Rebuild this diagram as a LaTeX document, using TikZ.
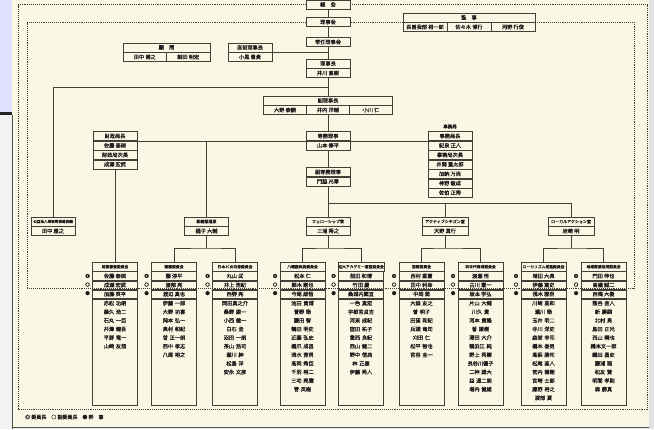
\documentclass[tikz,border=0pt]{standalone}
\usepackage{fontspec}
\setmainfont{Noto Sans CJK JP}[FakeBold=0.4]
\usetikzlibrary{positioning}
\definecolor{paper}{RGB}{250,247,228}
\definecolor{ink}{RGB}{66,62,56}
\definecolor{txt}{RGB}{28,26,26}

\begin{document}
\begin{tikzpicture}[x=1pt, y=-1pt,
  cell/.style={draw=ink, line width=0.45pt, fill=paper, text=txt, inner sep=0pt,
    minimum width=44pt, minimum height=9pt, font=\fontsize{5.2}{6}\selectfont},
  small/.style={cell, font=\fontsize{4}{5}\selectfont},
  chead/.style={cell, minimum width=45pt, anchor=north, font=\fontsize{3.8}{4.5}\selectfont},
  crow/.style={cell, minimum width=45pt, minimum height=8.6pt},
  cbody/.style={cell, text width=45pt, align=center, text height=6.4pt, text depth=99.8pt,
    font=\fontsize{5.2}{8.6}\selectfont},
  marks/.style={text width=5pt, align=center, inner sep=0pt, text height=6pt, anchor=north east,
    text=txt, font=\fontsize{4.5}{8.6}\selectfont},
  link/.style={draw=ink, line width=0.45pt},
  frame/.style={draw=ink, line width=0.35pt, dash pattern=on 1pt off 0.9pt},
]
\useasboundingbox (0,0) rectangle (654,429);
% sheet and photo edges
\fill[paper] (12,0) rectangle (649,427);
\fill[blue!12!white] (0,0) rectangle (12,112);
\fill[black!5] (0,115) rectangle (12,429);
\fill[black!85] (0,112) rectangle (12,115);
\fill[black!12] (649,0) rectangle (654,429);
\fill[black!6] (12,427) rectangle (649,429);
\draw[black!70, line width=0.6pt] (12,115) -- (12,429) (12,427) -- (649,427);

% top of the chart
\node[cell] (soukai) at (328,4.5) {総　会};
\node[cell] (rijikai) at (328,22) {理事会};
\node[cell] (jonin) at (328,42) {常任理事会};
\node[cell, minimum width=87pt] (komon) at (166.5,47.5) {顧　問};
\node[cell, minimum width=43.5pt, anchor=north west] (komon-1) at (komon.south west) {田中 博之};
\node[cell, minimum width=43.5pt, anchor=north east] (komon-2) at (komon.south east) {細田 明宏};
\node[cell] (chokuzen) at (250,47.5) {直前理事長};
\node[cell, below=0pt of chokuzen] (chokuzen-1) {小黒 豊貴};
\node[cell, minimum width=132pt] (kanji) at (469,17.5) {監　事};
\node[cell, anchor=north west] (kanji-1) at (kanji.south west) {長曽我部 裕一郎};
\node[cell, below=0pt of kanji] (kanji-2) {佐々木 博行};
\node[cell, anchor=north east] (kanji-3) at (kanji.south east) {河野 行俊};
\node[cell] (rijicho) at (328,63.5) {理事長};
\node[cell, below=0pt of rijicho] (rijicho-1) {井川 直樹};
\node[cell, minimum width=129pt] (fukuriji) at (328,100.5) {副理事長};
\node[cell, minimum width=43pt, anchor=north west] (fukuriji-1) at (fukuriji.south west) {大野 泰嗣};
\node[cell, minimum width=43pt, below=0pt of fukuriji] (fukuriji-2) {井内 洋輔};
\node[cell, minimum width=43pt, anchor=north east] (fukuriji-3) at (fukuriji.south east) {小川 仁};

% secretariat level
\node[cell] (senmu) at (328,136) {専務理事};
\node[cell, below=0pt of senmu] (senmu-1) {山本 修平};
\node[cell] (zaisei) at (115,136) {財政局長};
\node[cell, below=0pt of zaisei] (zaisei-1) {佐藤 泰規};
\node[cell, below=0pt of zaisei-1] (zaisei-2) {財政局次長};
\node[cell, below=0pt of zaisei-2] (zaisei-3) {成瀬 宏武};
\node[cell] (jimu) at (450,136) {事務局長};
\node[cell, below=0pt of jimu] (jimu-1) {紀泉 正人};
\node[cell, below=0pt of jimu-1] (jimu-2) {事務局次長};
\node[cell, below=0pt of jimu-2] (jimu-3) {井関 重太郎};
\node[cell, below=0pt of jimu-3] (jimu-4) {加納 万尚};
\node[cell, below=0pt of jimu-4] (jimu-5) {神野 敏成};
\node[cell, below=0pt of jimu-5] (jimu-6) {佐伯 正秀};
\node[small, draw=none, fill=none, anchor=south west, font=\fontsize{4.5}{5}\selectfont] (jimu-lbl) at (jimu.north west) {事務局};
\node[cell] (fsenmu) at (328,172) {副専務理事};
\node[cell, below=0pt of fsenmu] (fsenmu-1) {門脇 光章};

% rooms
\node[small, font=\fontsize{3.6}{4.5}\selectfont] (koueki) at (53,221.5) {公益法人格取得推進会議};
\node[cell, below=0pt of koueki] (koueki-1) {田中 雅之};
\node[small] (soshiki) at (206.5,221.5) {組織推進室};
\node[cell, below=0pt of soshiki] (soshiki-1) {樋子 大輔};
\node[small] (fellow) at (328,221.5) {フェローシップ室};
\node[cell, below=0pt of fellow] (fellow-1) {三浦 秀之};
\node[small, minimum width=46pt] (active) at (445,221.5) {アクティブシチズン室};
\node[cell, minimum width=46pt, below=0pt of active] (active-1) {天野 真行};
\node[small, minimum width=46pt] (local) at (571,221.5) {ローカルアクション室};
\node[cell, minimum width=46pt, below=0pt of local] (local-1) {岩崎 明};

% committees
\node[chead] (c1) at (115,262) {財務審査委員会};
\node[crow, below=0pt of c1] (c1-1) {佐藤 泰規};
\node[crow, below=0pt of c1-1] (c1-2) {成瀬 宏武};
\node[crow, below=0pt of c1-2] (c1-3) {加藤 英平};
\node[cbody, below=0pt of c1-3] (c1-b) {赤松 功朗\\藤久 浩二\\石丸 一臣\\井澤 健吾\\平野 竜一\\山崎 友哉};
\node[marks] (c1-m) at ([xshift=-2pt]c1-1.north west) {◎\\○\\●};

\node[chead] (c2) at (174,262) {総務委員会};
\node[crow, below=0pt of c2] (c2-1) {藤 淳平};
\node[crow, below=0pt of c2-1] (c2-2) {渡部 亮};
\node[crow, below=0pt of c2-2] (c2-3) {渡辺 真也};
\node[cbody, below=0pt of c2-3] (c2-b) {伊藤 一郎\\大野 功喜\\岡本 弘一\\奥村 和紀\\曽 正一朗\\西中 孝志\\八尾 裕之};
\node[marks] (c2-m) at ([xshift=-2pt]c2-1.north west) {◎\\○\\●};

\node[chead] (c3) at (235,262) {日本JC出向者委員会};
\node[crow, below=0pt of c3] (c3-1) {丸山 武};
\node[crow, below=0pt of c3-1] (c3-2) {井上 浩紀};
\node[crow, below=0pt of c3-2] (c3-3) {西野 亮};
\node[cbody, below=0pt of c3-3] (c3-b) {岡田真之介\\桑野 康一\\小西 健一\\白石 圭\\沼田 一朗\\茶山 浩司\\瀬川 紳\\松島 洋\\安永 文彦};
\node[marks] (c3-m) at ([xshift=-2pt]c3-1.north west) {◎\\○\\●};

\node[chead] (c4) at (302.5,262) {八幡塾実施委員会};
\node[crow, below=0pt of c4] (c4-1) {松本 仁};
\node[crow, below=0pt of c4-1] (c4-2) {鈴木 剛也};
\node[crow, below=0pt of c4-2] (c4-3) {今尾 雄悟};
\node[cbody, below=0pt of c4-3] (c4-b) {池田 貴博\\菅野 衛\\藤田 智\\鶴田 明史\\近藤 弘史\\橋爪 成昌\\清水 育男\\高岡 秀臣\\千羽 裕二\\三宅 亮麿\\菅 英樹};
\node[marks] (c4-m) at ([xshift=-2pt]c4-1.north west) {◎\\○\\●};

\node[chead] (c5) at (361,262) {松大アカデミー運営委員会};
\node[crow, below=0pt of c5] (c5-1) {前田 和博};
\node[crow, below=0pt of c5-1] (c5-2) {竹田 慶};
\node[crow, below=0pt of c5-2] (c5-3) {桑城内繁亘};
\node[cbody, below=0pt of c5-3] (c5-b) {一色 真宏\\宇都宮貞吉\\河東 成紀\\窪田 祐子\\重西 良紀\\西山 健二\\野中 信典\\林 正康\\伊藤 秀人};
\node[marks] (c5-m) at ([xshift=-2pt]c5-1.north west) {◎\\○\\●};

\node[chead] (c6) at (421.5,262) {国際委員会};
\node[crow, below=0pt of c6] (c6-1) {西村 重憲};
\node[crow, below=0pt of c6-1] (c6-2) {田中 利幸};
\node[crow, below=0pt of c6-2] (c6-3) {中岡 潤};
\node[cbody, below=0pt of c6-3] (c6-b) {大森 友之\\曽 明子\\田窪 和紀\\兵頭 竜司\\刈田 仁\\松平 智也\\宮谷 圭一};
\node[marks] (c6-m) at ([xshift=-2pt]c6-1.north west) {◎\\○\\●};

\node[chead] (c7) at (480.5,262) {次世代育成委員会};
\node[crow, below=0pt of c7] (c7-1) {渡瀬 悟};
\node[crow, below=0pt of c7-1] (c7-2) {古川 憲一};
\node[crow, below=0pt of c7-2] (c7-3) {坂本 学弘};
\node[cbody, below=0pt of c7-3] (c7-b) {片山 大輔\\川久 貴\\河本 貴隆\\曽 雄樹\\澤田 大介\\鶴浜江 純\\野上 秀樹\\長谷川優子\\二神 雄大\\益 通二朗\\増内 健雄};
\node[marks] (c7-m) at ([xshift=-2pt]c7-1.north west) {◎\\○\\●};

\node[chead] (c8) at (543.5,262) {ローカリズム推進委員会};
\node[crow, below=0pt of c8] (c8-1) {増田 大典};
\node[crow, below=0pt of c8-1] (c8-2) {伊藤 篤史};
\node[crow, below=0pt of c8-2] (c8-3) {浅木 雅臣};
\node[cbody, below=0pt of c8-3] (c8-b) {川崎 高和\\瀬川 衛\\玉井 明二\\寺川 洋史\\森堂 幸司\\橋本 泰男\\高萩 勝司\\松尾 直人\\宮内 謙剛\\宮崎 士郎\\藤野 裕之\\渡部 夏};
\node[marks] (c8-m) at ([xshift=-2pt]c8-1.north west) {◎\\○\\●};

\node[chead] (c9) at (603.5,262) {地域資源活用委員会};
\node[crow, below=0pt of c9] (c9-1) {門田 伸也};
\node[crow, below=0pt of c9-1] (c9-2) {高橋 誠二};
\node[crow, below=0pt of c9-2] (c9-3) {西條 大樹};
\node[cbody, below=0pt of c9-3] (c9-b) {熊谷 直人\\新 勝嗣\\北村 勇\\島田 正光\\西山 精也\\橋本文一郎\\織田 昌史\\藤浦 聡\\松友 賢\\明間 孝則\\森 勝真};
\node[marks] (c9-m) at ([xshift=-2pt]c9-1.north west) {◎\\○\\●};

\node[anchor=west, inner sep=0pt, text=txt, font=\fontsize{5}{6}\selectfont] (legend) at (25,417) {◎ 委員長　○ 副委員長　● 幹　事};

% connectors
\coordinate (br-koueki) at (328,87);
\coordinate (br-room) at (328,203);
\coordinate (br-soshiki) at (206.5,248);
\coordinate (br-fellow) at (328,248);
\coordinate (br-active) at (445,248);
\coordinate (br-local) at (571,248);
\draw[link] (soukai) -- (rijikai);
\draw[link] (rijikai) -- (jonin);
\draw[link] (jonin) -- (rijicho);
\draw[link] (chokuzen.south east) -- (chokuzen.south east -| jonin.south);
\draw[link] (rijicho-1) -- (fukuriji);
\draw[link] (br-koueki) -| (koueki);
\draw[link] (fukuriji-2) -- (senmu);
\draw[link] (zaisei.south east) -- (senmu.south west);
\draw[link] (senmu.south east) -- (jimu.south west);
\draw[link] (soshiki) -- (soshiki |- senmu.south west);
\draw[link] (senmu-1) -- (fsenmu);
\draw[link] (fsenmu-1) -- (fellow);
\draw[link] (br-room) -| (local);
\draw[link] (active) -- (active |- br-room);
\draw[link] (zaisei-3) -- (c1);
\draw[link] (soshiki-1) -- (br-soshiki);
\draw[link] (c2) |- (br-soshiki) -| (c3);
\draw[link] (fellow-1) -- (br-fellow);
\draw[link] (c4) |- (br-fellow) -| (c5);
\draw[link] (active-1) -- (br-active);
\draw[link] (c6) |- (br-active) -| (c7);
\draw[link] (local-1) -- (br-local);
\draw[link] (c8) |- (br-local) -| (c9);

% general assembly and board frames
\coordinate (outer-bl) at (18,409);
\coordinate (outer-br) at (647,409);
\coordinate (inner-bl) at (27,288.2);
\coordinate (inner-br) at (634,288.2);
\draw[frame] (soukai.west) -| (outer-bl) -- (outer-br) |- (soukai.east);
\draw[frame] (rijikai.west) -| (inner-bl) -- (inner-br) |- (rijikai.east);
\end{tikzpicture}
\end{document}
